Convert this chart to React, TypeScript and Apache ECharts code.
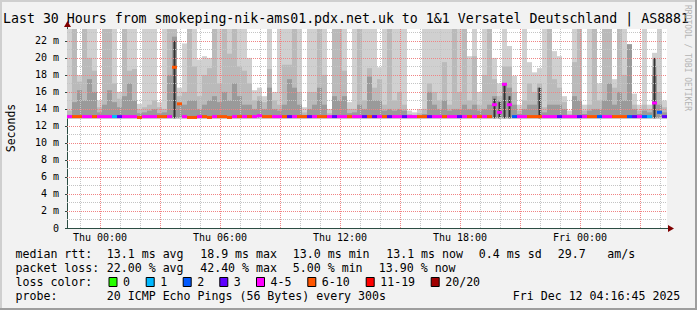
import React, { useEffect, useRef } from 'react';
import * as echarts from 'echarts';

// time axis in hours relative to Thu 00:00
const START_H = -1.65;
const END_H = 28.35;
const STEP_H = 0.25;
const Y_MAX = 23.4;
const SMOKE_BASE = 12.9;

// smoke: outer (max ping), middle, inner, core (0 = none) — ms
const smokeTop = [
  23.4, 23.4, 18.0, 23.4, 23.4, 23.4, 15.0, 23.4, 23.4, 23.4,
  16.0, 23.4, 23.4, 23.4, 14.6, 23.4, 23.4, 23.4, 14.8, 23.4,
  23.4, 23.4, 16.5, 21.7, 23.4, 23.4, 19.8, 20.2, 20.0, 23.4,
  23.4, 23.4, 23.4, 23.4, 23.4, 23.4, 20.0, 16.2, 16.5, 15.5,
  23.4, 16.0, 23.4, 23.4, 23.4, 23.4, 23.4, 14.2, 23.4, 23.4,
  23.4, 23.4, 14.0, 23.4, 23.4, 23.4, 14.8, 23.4, 23.4, 23.4,
  23.4, 23.4, 18.9, 23.4, 23.4, 23.4, 23.4, 23.4, 13.8, 13.6,
  14.0, 23.4, 23.4, 23.4, 23.4, 23.4, 23.4, 23.4, 23.4, 23.4,
  20.2, 23.4, 16.0, 23.4, 23.4, 20.0, 17.0, 23.4, 21.4, 17.9,
  14.5, 23.4, 19.5, 18.3, 18.8, 23.4, 23.4, 20.8, 20.2, 15.5,
  13.8, 23.4, 23.4, 14.5, 23.4, 23.4, 17.0, 23.4, 23.4, 17.5,
  23.4, 23.4, 21.6, 15.8, 14.5, 23.4, 14.5, 20.6, 23.4, 15.0,
];
const smokeMid = [
  13.8, 23.4, 17.2, 23.4, 20.0, 18.5, 14.2, 23.4, 23.4, 17.0,
  15.2, 23.4, 18.5, 18.7, 14.0, 14.2, 14.5, 15.0, 14.2, 14.0,
  23.4, 23.4, 15.5, 16.0, 23.4, 19.0, 15.5, 18.0, 18.8, 23.4,
  17.0, 23.4, 20.5, 23.4, 19.0, 18.5, 17.0, 15.0, 15.5, 14.8,
  18.7, 15.0, 14.5, 19.2, 19.2, 23.4, 16.0, 13.6, 16.0, 16.0,
  23.4, 18.0, 13.5, 23.4, 23.4, 18.5, 14.0, 14.0, 23.4, 15.0,
  18.8, 16.5, 17.5, 14.5, 23.4, 15.0, 16.0, 14.5, 13.4, 13.3,
  13.5, 14.0, 17.0, 16.0, 15.0, 19.5, 14.5, 23.4, 16.0, 23.4,
  15.0, 20.2, 14.5, 18.0, 23.4, 17.5, 15.5, 19.0, 19.0, 16.0,
  13.8, 15.0, 17.0, 16.0, 17.0, 14.2, 23.4, 17.5, 16.5, 14.8,
  13.4, 19.5, 23.4, 13.8, 14.5, 23.4, 15.0, 23.4, 23.4, 16.5,
  23.4, 18.0, 21.6, 14.5, 13.8, 14.5, 14.0, 19.0, 16.0, 14.2,
];
const smokeDark = [
  13.3, 14.8, 16.2, 15.0, 17.5, 16.0, 13.6, 14.5, 16.2, 14.8,
  14.2, 15.5, 17.0, 15.0, 13.5, 13.6, 13.8, 14.0, 13.5, 13.6,
  18.0, 22.5, 14.5, 14.5, 15.0, 15.0, 14.0, 14.5, 15.0, 15.5,
  14.8, 16.0, 15.0, 17.0, 15.5, 14.5, 14.5, 14.0, 15.0, 14.0,
  16.5, 14.0, 13.8, 14.5, 17.5, 16.5, 14.5, 13.3, 14.0, 14.5,
  16.5, 14.5, 13.2, 15.5, 15.0, 15.5, 13.5, 13.6, 14.5, 14.0,
  17.8, 15.0, 15.0, 13.8, 14.0, 13.8, 14.0, 13.8, 13.2, 13.1,
  13.2, 13.4, 16.0, 14.5, 14.0, 15.0, 13.8, 14.0, 14.0, 14.5,
  14.0, 14.5, 13.8, 14.0, 14.5, 15.5, 15.0, 17.0, 16.5, 14.5,
  13.4, 14.0, 14.5, 14.5, 16.5, 13.6, 14.5, 14.5, 14.5, 14.0,
  13.2, 15.5, 15.0, 13.4, 13.8, 14.0, 14.0, 15.0, 17.0, 14.5,
  16.0, 15.0, 21.6, 14.0, 13.4, 13.8, 13.6, 18.0, 14.5, 13.6,
];
const smokeCore = [
  0, 0, 0, 0, 0, 0, 0, 0, 0, 0,
  0, 0, 0, 0, 0, 0, 0, 0, 0, 0,
  0, 22.0, 0, 0, 0, 0, 0, 0, 0, 0,
  0, 0, 0, 0, 0, 0, 0, 0, 0, 0,
  0, 0, 0, 0, 0, 0, 0, 0, 0, 0,
  0, 0, 0, 0, 0, 0, 0, 0, 0, 0,
  0, 0, 0, 0, 0, 0, 0, 0, 0, 0,
  0, 0, 0, 0, 0, 0, 0, 0, 0, 0,
  0, 0, 0, 0, 0, 15.2, 14.8, 16.9, 15.5, 0,
  0, 0, 0, 0, 16.5, 0, 0, 0, 0, 0,
  0, 0, 0, 0, 0, 0, 0, 0, 0, 0,
  0, 0, 0, 0, 0, 0, 0, 20.0, 0, 0,
];
const medianRtt = [
  13.1, 13.1, 13.1, 13.1, 13.1, 13.1, 13.1, 13.1, 13.1, 13.1,
  13.1, 13.1, 13.1, 13.1, 13.0, 13.1, 13.1, 13.1, 13.1, 13.1,
  13.1, 18.9, 14.6, 13.1, 13.0, 13.0, 13.1, 13.1, 13.0, 13.1,
  13.1, 13.1, 13.0, 13.1, 13.1, 13.1, 13.1, 13.1, 13.2, 13.1,
  13.1, 13.1, 13.1, 13.1, 13.1, 13.1, 13.1, 13.1, 13.1, 13.1,
  13.1, 13.1, 13.1, 13.1, 13.1, 13.1, 13.1, 13.1, 13.1, 13.1,
  13.1, 13.1, 13.1, 13.1, 13.1, 13.1, 13.1, 13.1, 13.1, 13.1,
  13.1, 13.1, 13.1, 13.1, 13.1, 13.1, 13.1, 13.1, 13.1, 13.1,
  13.1, 13.1, 13.1, 13.1, 13.1, 14.5, 13.6, 16.9, 14.5, 13.1,
  13.1, 13.1, 13.1, 13.1, 13.1, 13.1, 13.1, 13.1, 13.1, 13.1,
  13.1, 13.1, 13.1, 13.1, 13.1, 13.1, 13.1, 13.1, 13.1, 13.1,
  13.1, 13.1, 13.1, 13.1, 13.1, 13.1, 13.1, 14.7, 13.6, 13.1,
];
// index into lossLabels / lossColors
const lossClass = [
  4, 5, 5, 4, 4, 5, 4, 4, 4, 1, 3, 4, 4, 4, 5, 4, 4, 4, 5, 5,
  4, 5, 5, 4, 5, 5, 4, 5, 5, 4, 5, 5, 5, 4, 5, 4, 5, 4, 4, 5,
  5, 4, 4, 5, 3, 4, 5, 5, 3, 4, 5, 5, 4, 3, 4, 4, 5, 4, 4, 3,
  5, 3, 4, 5, 3, 4, 4, 3, 4, 4, 5, 5, 3, 4, 4, 5, 4, 4, 3, 4,
  5, 4, 5, 4, 5, 4, 4, 4, 4, 2, 4, 4, 5, 5, 5, 4, 4, 4, 3, 4,
  4, 4, 3, 4, 5, 5, 2, 4, 4, 5, 5, 5, 2, 3, 4, 2, 1, 4, 2, 3,
];
const lossLabels = ['0', '1', '2', '3', '4-5', '6-10', '11-19', '20/20'];
const lossColors = ['#26ff00', '#00b8ff', '#0059ff', '#5e00ff', '#ff00ff', '#ff5500', '#ff0000', '#a10000'];

const xTickHours = [0, 6, 12, 18, 24];
const xTickLabels = ['Thu 00:00', 'Thu 06:00', 'Thu 12:00', 'Thu 18:00', 'Fri 00:00'];
const yTickValues = [0, 2, 4, 6, 8, 10, 12, 14, 16, 18, 20, 22];

const titleText = 'Last 30 Hours from smokeping-nik-ams01.pdx.net.uk to 1&1 Versatel Deutschland | AS8881';
const statLine1 = ['13.1 ms avg', '18.9 ms max', '13.0 ms min', '13.1 ms now', '0.4 ms sd', '29.7', 'am/s'];
const statLine2 = ['22.00 % avg', '42.40 % max', '5.00 % min', '13.90 % now'];
const probeText = '20 ICMP Echo Pings (56 Bytes) every 300s';
const dateText = 'Fri Dec 12 04:16:45 2025';

const MONO = '"DejaVu Sans Mono", monospace';

export default function App() {
  const ref = useRef<HTMLDivElement>(null);
  useEffect(() => {
    const chart = echarts.init(ref.current!, null, { renderer: 'svg' });

    const smokeData = smokeTop.map((top, i) => [START_H + i * STEP_H, top, smokeMid[i], smokeDark[i], smokeCore[i]]);
    const medianData = medianRtt.map((m, i) => [START_H + i * STEP_H, m, lossClass[i]]);

    const smokeColors = ['#d0d0d0', '#bababa', '#9a9a9a', '#333333'];
    const smokeRender = (params: any, api: any) => {
      const t = api.value(0);
      const pb = api.coord([t, SMOKE_BASE]);
      const pe = api.coord([t + STEP_H, SMOKE_BASE]);
      const x0 = pb[0];
      const w = pe[0] - pb[0];
      const children: any[] = [];
      for (let k = 1; k <= 4; k++) {
        const v = api.value(k);
        if (!v || v <= SMOKE_BASE) continue;
        const yt = api.coord([t, v])[1];
        const isCore = k === 4;
        children.push({
          type: 'rect',
          shape: { x: isCore ? x0 + w / 2 - 1 : x0, y: yt, width: isCore ? 2 : w, height: pb[1] - yt },
          style: { fill: smokeColors[k - 1] },
        });
      }
      return { type: 'group', children };
    };

    const medianRender = (params: any, api: any) => {
      const t = api.value(0);
      const m = api.value(1);
      const c = api.value(2);
      const p0 = api.coord([t, m]);
      const p1 = api.coord([t + STEP_H, m]);
      return {
        type: 'rect',
        shape: { x: p0[0], y: p0[1] - 1.5, width: p1[0] - p0[0], height: 3 },
        style: { fill: lossColors[c] },
      };
    };

    // grid lines: [kind (0 vertical, 1 horizontal), value, major]
    const gridData: number[][] = [];
    for (let h = Math.ceil(START_H); h <= Math.floor(END_H); h++) gridData.push([0, h, h % 3 === 0 ? 1 : 0]);
    for (let v = 1; v <= Math.floor(Y_MAX); v++) gridData.push([1, v, v % 2 === 0 ? 1 : 0]);
    gridData.sort((a, b) => a[2] - b[2]);
    const gridRender = (params: any, api: any) => {
      const kind = api.value(0);
      const v = api.value(1);
      const major = api.value(2);
      const cs = params.coordSys;
      let shape;
      if (kind === 0) {
        const x = Math.round(api.coord([v, 0])[0]) + 0.5;
        shape = { x1: x, y1: cs.y, x2: x, y2: cs.y + cs.height };
      } else {
        const y = Math.round(api.coord([START_H, v])[1]) + 0.5;
        shape = { x1: cs.x, y1: y, x2: cs.x + cs.width, y2: y };
      }
      return {
        type: 'line', shape,
        style: { stroke: major ? '#f08484' : '#c4c4c4', lineWidth: 1, lineDash: [1, 1] },
      };
    };

    const graphics: any[] = [];
    const txt = (text: string, x: number, y: number, size: number, extra: any = {}) => ({
      type: 'text',
      x, y,
      rotation: extra.rotation || 0,
      style: {
        text, x: 0, y: 0,
        fill: extra.fill || '#000',
        fontSize: size, fontFamily: MONO,
        align: extra.align || 'left', verticalAlign: 'middle',
        textAlign: extra.align || 'left', textVerticalAlign: 'middle',
      },
      silent: true,
    });
    // frame
    graphics.push({ type: 'rect', shape: { x: 0, y: 0, width: 697, height: 2 }, style: { fill: '#cfcfcf' } });
    graphics.push({ type: 'rect', shape: { x: 0, y: 0, width: 2, height: 310 }, style: { fill: '#cfcfcf' } });
    graphics.push({ type: 'rect', shape: { x: 0, y: 308, width: 697, height: 2 }, style: { fill: '#9e9e9e' } });
    graphics.push({ type: 'rect', shape: { x: 695, y: 0, width: 2, height: 310 }, style: { fill: '#9e9e9e' } });
    // title
    graphics.push(txt(titleText, 3, 18.8, 13.25));
    graphics.push(txt('Seconds', 11, 128, 11.5, { rotation: Math.PI / 2, align: 'center' }));
    graphics.push(txt('RRDTOOL / TOBI OETIKER', 687, 58, 8, { rotation: -Math.PI / 2, align: 'center', fill: '#b4b4b4' }));
    // axis extensions + arrows
    graphics.push({ type: 'line', shape: { x1: 666, y1: 228.5, x2: 669, y2: 228.5 }, style: { stroke: '#2c4d43', lineWidth: 1 } });
    graphics.push({ type: 'line', shape: { x1: 67.5, y1: 29, x2: 67.5, y2: 26 }, style: { stroke: '#2c4d43', lineWidth: 1 } });
    graphics.push({ type: 'polygon', shape: { points: [[668, 225], [674, 228.5], [668, 232]] }, style: { fill: '#7f0000' } });
    graphics.push({ type: 'polygon', shape: { points: [[64, 27], [67.5, 21], [71, 27]] }, style: { fill: '#7f0000' } });
    // legend
    const L = 11.6;
    const r1 = 254.3, r2 = 268.3, r3 = 282.3, r4 = 296.3;
    graphics.push(txt('median rtt:', 15.5, r1, L));
    const s1x = [106.8, 200.2, 292.8, 386.2, 478.8, 557.8, 607.2];
    statLine1.forEach((s, i) => graphics.push(txt(s, s1x[i], r1, L)));
    graphics.push(txt('packet loss:', 15.5, r2, L));
    const s2x = [106.8, 200.2, 292.8, 378.8];
    statLine2.forEach((s, i) => graphics.push(txt(s, s2x[i], r2, L)));
    graphics.push(txt('loss color:', 15.5, r3, L));
    const boxX = [108.5, 145.7, 182.7, 219.3, 256, 307.3, 365.7, 430.7];
    lossLabels.forEach((lab, i) => {
      graphics.push({ type: 'rect', shape: { x: boxX[i] + 0.5, y: 277.5, width: 8, height: 9 }, style: { fill: lossColors[i], stroke: '#000', lineWidth: 1 } });
      graphics.push(txt(lab, boxX[i] + 14.5, r3, L));
    });
    graphics.push(txt('probe:', 15.5, r4, L));
    graphics.push(txt(probeText, 106.8, r4, L));
    graphics.push(txt(dateText, 512.8, r4, L));

    chart.setOption({
      animation: false,
      backgroundColor: '#f2f2f2',
      grid: { left: 67, top: 29, width: 600, height: 199, show: true, backgroundColor: '#ffffff', borderWidth: 0 },
      xAxis: {
        type: 'value', min: START_H, max: END_H,
        splitLine: { show: false },
        axisLine: { show: true, onZero: false, lineStyle: { color: '#2c4d43', width: 1 } },
        axisTick: { show: false },
        axisLabel: {
          customValues: xTickHours,
          formatter: (v: number) => { const i = xTickHours.indexOf(Math.round(v)); return i >= 0 ? xTickLabels[i] : ''; },
          fontFamily: MONO, fontSize: 10, color: '#000', margin: 4,
        },
      },
      yAxis: {
        type: 'value', min: 0, max: Y_MAX,
        splitLine: { show: false },
        axisLine: { show: true, onZero: false, lineStyle: { color: '#2c4d43', width: 1 } },
        axisTick: { show: true, customValues: yTickValues, length: 2, lineStyle: { color: '#2c4d43' } },
        axisLabel: {
          customValues: yTickValues,
          formatter: (v: number) => (v === 0 ? '0' : `${v} m`),
          fontFamily: MONO, fontSize: 10, color: '#000', margin: 8,
        },
      },
      series: [
        { type: 'custom', renderItem: smokeRender, data: smokeData, encode: { x: 0, y: 1 }, clip: true, z: 1, silent: true },
        { type: 'custom', renderItem: gridRender, data: gridData, z: 2, silent: true },
        { type: 'custom', renderItem: medianRender, data: medianData, encode: { x: 0, y: 1 }, clip: true, z: 3, silent: true },
      ],
      graphic: graphics,
    });
    return () => chart.dispose();
  }, []);
  return <div ref={ref} style={{ position: 'absolute', left: 0, top: 0, width: 697, height: 310 }} />;
}
